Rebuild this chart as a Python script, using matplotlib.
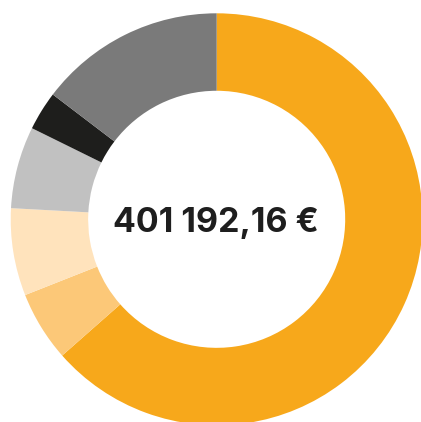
import matplotlib.pyplot as plt

labels = ["Orange", "Light orange", "Cream", "Light grey", "Black", "Dark grey"]
amounts = [254750.00, 22100.00, 27500.00, 25800.00, 12300.00, 58742.16]
colors = ["#F7A81B", "#FCC878", "#FFE3BC", "#C1C1C1", "#1E1E1C", "#7A7A7A"]
total_label = "401 192,16 €"

fig = plt.figure(figsize=(4.21, 4.22), dpi=100)
ax = fig.add_axes([0, 0, 1, 1])

ax.pie(amounts, colors=colors, startangle=90, counterclock=False,
       radius=1.0, wedgeprops=dict(width=0.376, linewidth=0))

ax.text(-0.004, -0.060, total_label, ha='center', va='baseline', fontsize=24.5,
        fontweight='bold', color='#1E1E1E', family=['Inter', 'DejaVu Sans'])

# place the ring like in the reference (clipped right and bottom)
ax.set_xlim(-1.052, 0.992)
ax.set_ylim(-0.984, 1.0646)
ax.set_aspect('auto')
ax.axis('off')

fig.savefig('out.png', dpi=100, facecolor='white')
plt.close(fig)
